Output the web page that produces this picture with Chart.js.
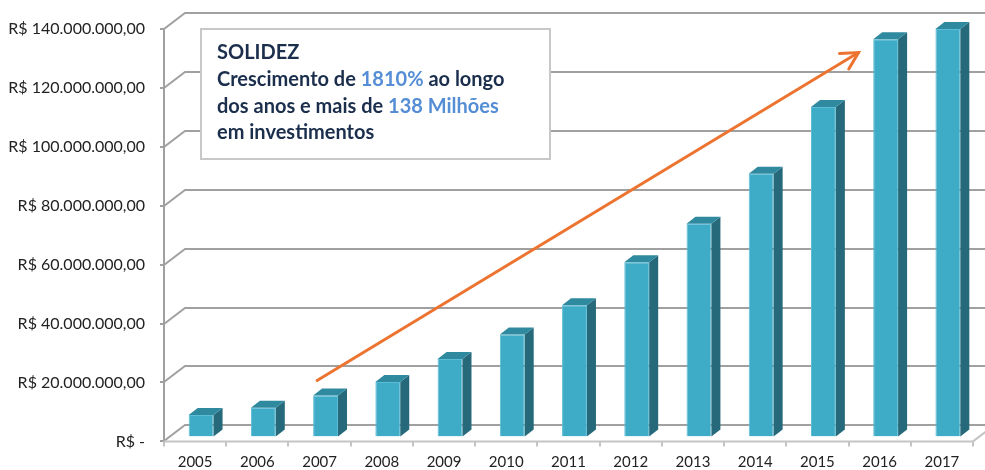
<!DOCTYPE html>
<html>
<head>
<meta charset="utf-8">
<script src="https://cdn.jsdelivr.net/npm/chart.js@4.4.0/dist/chart.umd.min.js"></script>
<style>
  html, body { margin: 0; padding: 0; background: #fff; }
</style>
</head>
<body>
<canvas id="chart" width="985" height="470"></canvas>
<script>
// data
const years = ['2005', '2006', '2007', '2008', '2009', '2010', '2011', '2012', '2013', '2014', '2015', '2016', '2017'];
const investments = [7240000, 9750000, 13900000, 18500000, 26300000, 34600000, 44500000, 59100000, 72200000, 89200000, 111800000, 134800000, 138300000];
const yTicks = [0, 20000000, 40000000, 60000000, 80000000, 100000000, 120000000, 140000000];
const yTickLabels = ['R$ -', 'R$ 20.000.000,00', 'R$ 40.000.000,00', 'R$ 60.000.000,00', 'R$ 80.000.000,00', 'R$ 100.000.000,00', 'R$ 120.000.000,00', 'R$ 140.000.000,00'];

// trend arrow, in (category index, value)
const arrowFrom = [1.96, 20700000];
const arrowTo = [10.66, 132000000];

// callout text
const boxTitle = 'SOLIDEZ';
const boxLines = [
    [['Crescimento de ', false], ['1810%', true], [' ao longo', false]],
    [['dos anos e mais de ', false], ['138 Milhões', true]],
    [['em investimentos', false]]
];

const FONT = 'Lato, "Open Sans", sans-serif';
const GRID = '#a0a0a0';
const WALL_DX = 21, WALL_DY = -16;   // depth of side wall
const BAR_DX = 9, BAR_DY = -7;       // depth of each column
const BAR_SHIFT_X = 6, BAR_SHIFT_Y = -5;

const depth3d = {
    id: 'depth3d',
    beforeDatasetsDraw(chart) {
        const { ctx, chartArea: a, scales: { x, y } } = chart;
        ctx.save();
        ctx.strokeStyle = GRID;
        ctx.lineWidth = 2;
        // wall gridlines: side wall diagonal + back wall horizontal
        yTicks.forEach(v => {
            const py = Math.round(y.getPixelForValue(v));
            ctx.beginPath();
            ctx.moveTo(a.left, py);
            ctx.lineTo(a.left + WALL_DX, py + WALL_DY);
            ctx.lineTo(chart.width, py + WALL_DY);
            ctx.stroke();
            ctx.beginPath();
            ctx.moveTo(a.left - 4, py);
            ctx.lineTo(a.left, py);
            ctx.stroke();
        });
        // front vertical axis
        ctx.beginPath();
        ctx.moveTo(a.left, Math.round(y.getPixelForValue(yTicks[yTicks.length - 1])));
        ctx.lineTo(a.left, a.bottom);
        ctx.stroke();
        // floor front edge + right edge
        ctx.strokeStyle = '#c4c4c4';
        ctx.beginPath();
        ctx.moveTo(a.left, a.bottom);
        ctx.lineTo(a.right, a.bottom);
        ctx.lineTo(a.right + WALL_DX, a.bottom + WALL_DY);
        ctx.stroke();
        // category tick marks
        for (let i = 0; i <= years.length; i++) {
            const px = Math.round(x.getPixelForValue(i - 0.5));
            ctx.beginPath();
            ctx.moveTo(px, a.bottom);
            ctx.lineTo(px, a.bottom + 5);
            ctx.stroke();
        }
        ctx.restore();

        // columns sit half way into the floor
        ctx.save();
        ctx.translate(BAR_SHIFT_X, BAR_SHIFT_Y);
    },
    afterDatasetsDraw(chart) {
        const { ctx } = chart;
        const meta = chart.getDatasetMeta(0);
        meta.data.forEach(bar => {
            const l = bar.x - bar.width / 2;
            const r = bar.x + bar.width / 2;
            // side face
            ctx.fillStyle = '#25697a';
            ctx.beginPath();
            ctx.moveTo(r, bar.y);
            ctx.lineTo(r + BAR_DX, bar.y + BAR_DY);
            ctx.lineTo(r + BAR_DX, bar.base + BAR_DY);
            ctx.lineTo(r, bar.base);
            ctx.closePath();
            ctx.fill();
            // top face
            ctx.fillStyle = '#2f8a9f';
            ctx.beginPath();
            ctx.moveTo(l, bar.y);
            ctx.lineTo(l + BAR_DX, bar.y + BAR_DY);
            ctx.lineTo(r + BAR_DX, bar.y + BAR_DY);
            ctx.lineTo(r, bar.y);
            ctx.closePath();
            ctx.fill();
        });
        ctx.restore();
    },
    afterDraw(chart) {
        const { ctx, scales: { x, y } } = chart;
        ctx.save();

        // orange trend arrow
        const x1 = x.getPixelForValue(arrowFrom[0]), y1 = y.getPixelForValue(arrowFrom[1]);
        const x2 = x.getPixelForValue(arrowTo[0]), y2 = y.getPixelForValue(arrowTo[1]);
        const ang = Math.atan2(y2 - y1, x2 - x1);
        ctx.strokeStyle = '#ec7430';
        ctx.lineWidth = 3;
        ctx.lineCap = 'round';
        ctx.beginPath();
        ctx.moveTo(x1, y1);
        ctx.lineTo(x2, y2);
        ctx.stroke();
        ctx.beginPath();
        ctx.moveTo(x2 + 19 * Math.cos(ang + Math.PI - 0.49), y2 + 19 * Math.sin(ang + Math.PI - 0.49));
        ctx.lineTo(x2, y2);
        ctx.lineTo(x2 + 19 * Math.cos(ang + Math.PI + 0.49), y2 + 19 * Math.sin(ang + Math.PI + 0.49));
        ctx.stroke();

        // callout box
        ctx.fillStyle = '#fff';
        ctx.fillRect(201, 29, 349, 130);
        ctx.strokeStyle = '#c8c8c8';
        ctx.lineWidth = 2;
        ctx.strokeRect(201, 29, 349, 130);

        ctx.font = 'bold 20px ' + FONT;
        ctx.textBaseline = 'alphabetic';
        ctx.fillStyle = '#1b2f4d';
        ctx.fillText(boxTitle, 217, 59);
        boxLines.forEach((line, i) => {
            let tx = 217;
            line.forEach(([txt, hi]) => {
                ctx.fillStyle = hi ? '#558ed5' : '#1b2f4d';
                ctx.fillText(txt, tx, 86 + i * 26.5);
                tx += ctx.measureText(txt).width;
            });
        });
        ctx.restore();
    }
};

new Chart(document.getElementById('chart'), {
    type: 'bar',
    data: {
        labels: years,
        datasets: [{
            data: investments,
            backgroundColor: '#3eabc7',
            borderColor: '#5cbdd6',
            borderWidth: 1,
            barPercentage: 1,
            categoryPercentage: 0.4
        }]
    },
    options: {
        responsive: false,
        devicePixelRatio: 1,
        animation: false,
        layout: { padding: { top: 29, right: 12, left: 0, bottom: 0 } },
        plugins: { legend: { display: false }, tooltip: { enabled: false } },
        scales: {
            x: {
                grid: { display: false, drawTicks: false },
                border: { display: false },
                ticks: { color: '#222', font: { family: FONT, size: 15 }, padding: 12, maxRotation: 0 },
                afterFit: (s) => { s.height = 28; }
            },
            y: {
                min: 0,
                max: 140000000,
                afterBuildTicks: (s) => { s.ticks = yTicks.map(v => ({ value: v })); },
                grid: { display: false, drawTicks: false },
                border: { display: false },
                ticks: {
                    color: '#222',
                    font: { family: FONT, size: 16 },
                    padding: 19,
                    callback: (v, i) => yTickLabels[i]
                },
                afterFit: (s) => { s.width = 164; }
            }
        }
    },
    plugins: [depth3d]
});
</script>
</body>
</html>
